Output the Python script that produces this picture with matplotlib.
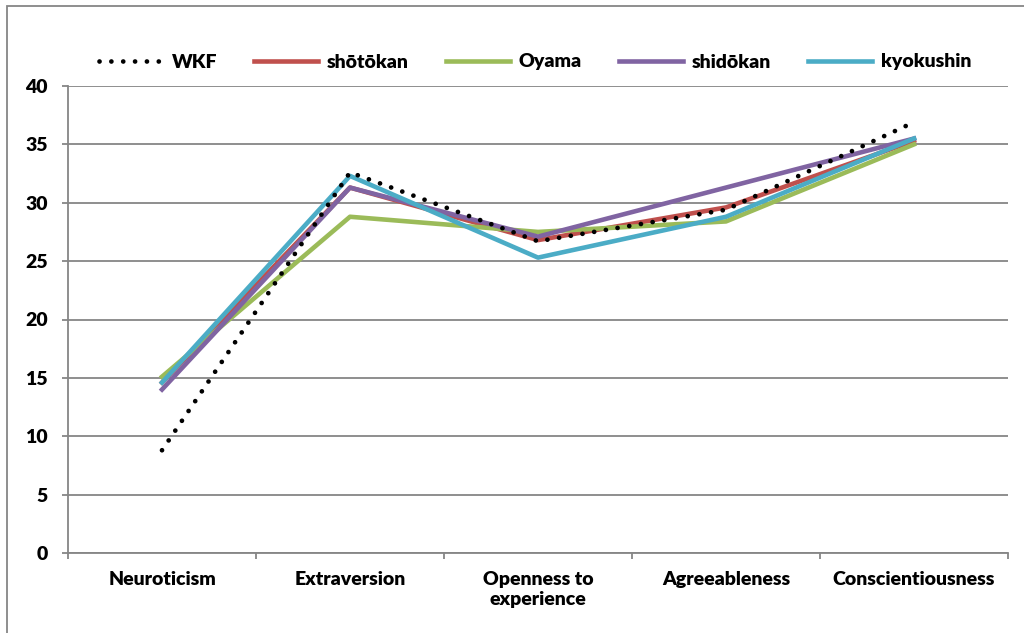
import matplotlib
matplotlib.use("Agg")
import matplotlib.pyplot as plt
from matplotlib.patches import Rectangle

categories = ["Neuroticism", "Extraversion", "Openness to\nexperience", "Agreeableness", "Conscientiousness"]
series_names = ["WKF", "shōtōkan", "Oyama", "shidōkan", "kyokushin"]
wkf = [8.8, 32.6, 26.7, 29.4, 36.9]
shotokan = [14.6, 31.3, 26.8, 29.6, 35.3]
oyama = [15.1, 28.8, 27.5, 28.4, 35.0]
shidokan = [14.0, 31.3, 27.1, 31.3, 35.5]
kyokushin = [14.6, 32.3, 25.3, 28.8, 35.5]
yticks = [0, 5, 10, 15, 20, 25, 30, 35, 40]

plt.rcParams['font.family'] = ['Lato', 'DejaVu Sans']
W = 'heavy'
plt.rcParams['font.weight'] = W

fig = plt.figure(figsize=(10.24, 6.33), dpi=100)
ax = fig.add_axes([68/1024, 1-553/633, 940/1024, (553-86)/633])

# outer chart border
fig.patches.append(Rectangle((7/1024, -0.1), 1.2, 1-6/633+0.1, transform=fig.transFigure,
                             fill=False, edgecolor='#868686', lw=1.3))

x = list(range(len(categories)))
grey = '#868686'
ax.plot(x, wkf, color='black', lw=3.4, linestyle=(0, (0.01, 2.5)), dash_capstyle='round', label=series_names[0], zorder=5)
ax.plot(x, shotokan, color='#C0504D', lw=3.3, label=series_names[1], solid_joinstyle='round', zorder=3)
ax.plot(x, oyama, color='#9BBB59', lw=3.3, label=series_names[2], solid_joinstyle='round', zorder=3)
ax.plot(x, shidokan, color='#8064A2', lw=3.3, label=series_names[3], solid_joinstyle='round', zorder=3)
ax.plot(x, kyokushin, color='#4BACC6', lw=3.3, label=series_names[4], solid_joinstyle='round', zorder=3)

ax.set_xlim(-0.5, len(categories) - 0.5)
ax.set_ylim(0, 40)
ax.set_yticks(yticks)
ax.yaxis.grid(True, color=grey, lw=1.3)
ax.set_axisbelow(True)

ax.set_xticks([i - 0.5 for i in range(len(categories) + 1)])
ax.set_xticklabels([])
ax.set_xticks(x, minor=True)
ax.set_xticklabels(categories, minor=True)
ax.tick_params(axis='x', which='major', length=4, color=grey, width=1.3, direction='out')
ax.tick_params(axis='x', which='minor', length=0, pad=13, labelsize=14)
ax.tick_params(axis='y', length=4.5, color=grey, width=1.3, pad=10, labelsize=14)
for lab in ax.get_xticklabels(minor=True) + ax.get_yticklabels():
    lab.set_fontweight(W)

for s in ['top', 'right']:
    ax.spines[s].set_visible(False)
for s in ['left', 'bottom']:
    ax.spines[s].set_color(grey)
    ax.spines[s].set_linewidth(1.3)

leg = fig.legend(loc='center', bbox_to_anchor=(535/1024, 1-62/633), ncol=5, frameon=False,
                 handlelength=3.3, handletextpad=0.45, columnspacing=1.9,
                 prop={'weight': W, 'size': 14})

fig.savefig("out.png", dpi=100)
